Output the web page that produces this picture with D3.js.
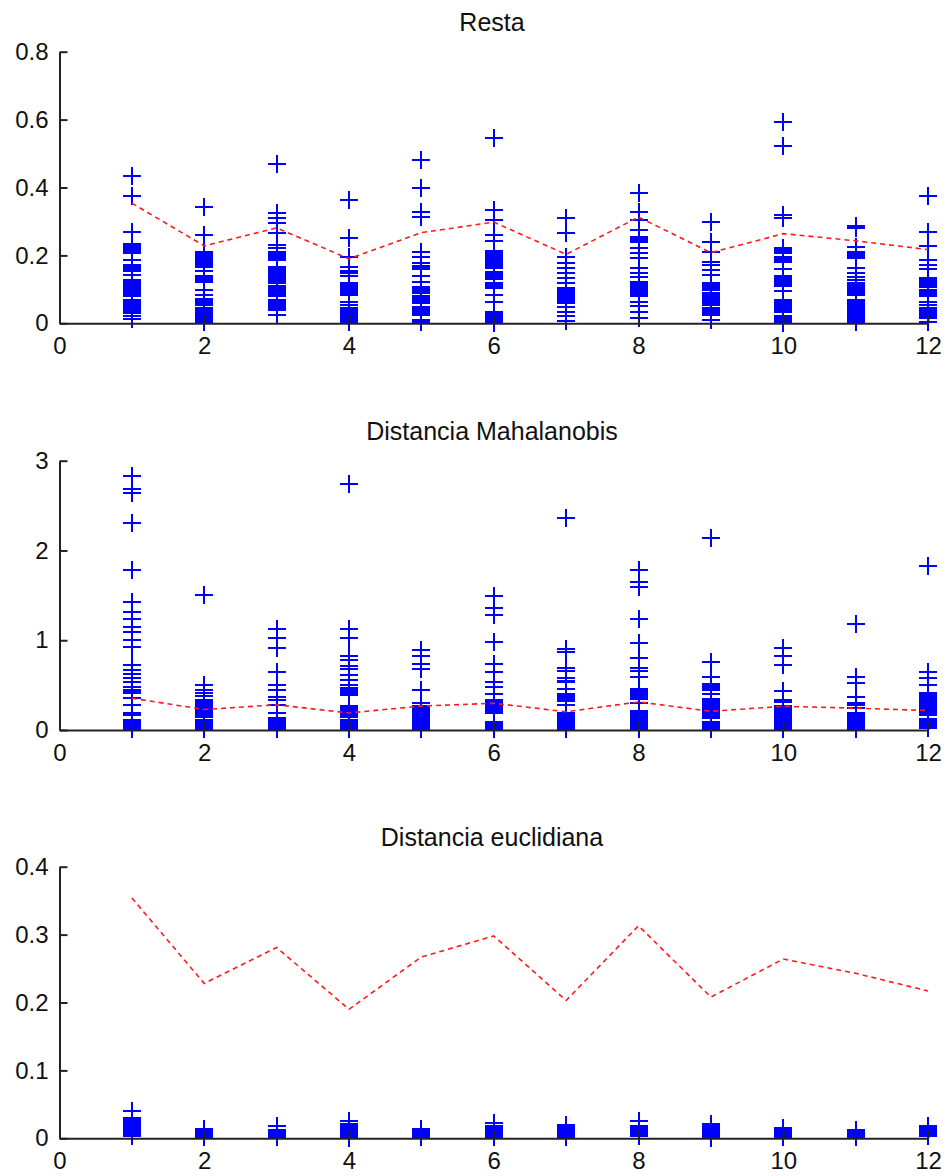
<!DOCTYPE html>
<html>
<head>
<meta charset="utf-8">
<script src="https://cdn.jsdelivr.net/npm/d3@7"></script>
<style>
  html, body { margin: 0; padding: 0; background: #fff; }
  svg { display: block; }
  text { font-family: "Liberation Sans", Arial, Helvetica, sans-serif; fill: #111; }
</style>
</head>
<body>
<svg id="chart" width="947" height="1176"></svg>
<script>
// ---------- DATA ----------
const categories = [1, 2, 3, 4, 5, 6, 7, 8, 9, 10, 11, 12];
const xTicks = [0, 2, 4, 6, 8, 10, 12];

const titles = ["Resta", "Distancia Mahalanobis", "Distancia euclidiana"];
const restaTicks = [0, 0.2, 0.4, 0.6, 0.8];
const mahalTicks = [0, 1, 2, 3];
const euclidTicks = [0, 0.1, 0.2, 0.3, 0.4];

// mean line (red dashed), same in all panels
const meanValues = [0.354, 0.228, 0.281, 0.190, 0.267, 0.298, 0.203, 0.313, 0.208, 0.264, 0.243, 0.217];

// Resta samples per category
const restaPoints = [
  [0.435,0.375,0.268,0.207,0.212,0.217,0.222,0.227,0.233,0.187,0.155,0.160,0.166,0.172,0.142,0.113,0.118,0.123,0.128,0.079,0.084,0.089,0.094,0.100,0.106,0.031,0.036,0.041,0.046,0.051,0.056,0.061,0.066,0.069,0.022,0.012],
  [0.344,0.260,0.167,0.172,0.177,0.182,0.187,0.192,0.197,0.202,0.207,0.211,0.155,0.123,0.128,0.134,0.139,0.098,0.083,0.054,0.059,0.065,0.071,0.003,0.008,0.013,0.018,0.023,0.028,0.033,0.038,0.044],
  [0.468,0.324,0.309,0.296,0.265,0.231,0.221,0.185,0.190,0.195,0.200,0.205,0.211,0.120,0.125,0.130,0.135,0.140,0.145,0.150,0.155,0.160,0.165,0.079,0.084,0.089,0.094,0.099,0.104,0.110,0.039,0.044,0.049,0.054,0.059,0.064,0.069,0.025],
  [0.363,0.250,0.196,0.167,0.155,0.147,0.140,0.083,0.088,0.093,0.098,0.103,0.108,0.113,0.120,0.064,0.054,0.003,0.008,0.013,0.018,0.023,0.028,0.033,0.038,0.044],
  [0.481,0.398,0.329,0.314,0.211,0.196,0.159,0.164,0.170,0.177,0.139,0.123,0.088,0.093,0.098,0.103,0.108,0.059,0.064,0.069,0.074,0.079,0.025,0.030,0.035,0.040,0.045,0.049,0.010,0.004],
  [0.547,0.334,0.304,0.260,0.243,0.162,0.167,0.172,0.177,0.182,0.187,0.192,0.197,0.202,0.208,0.214,0.130,0.135,0.140,0.146,0.152,0.103,0.108,0.114,0.120,0.083,0.064,0.002,0.007,0.012,0.017,0.022,0.027,0.032],
  [0.309,0.265,0.196,0.177,0.162,0.147,0.133,0.120,0.059,0.064,0.069,0.074,0.079,0.084,0.089,0.094,0.099,0.104,0.049,0.034,0.022,0.008],
  [0.383,0.329,0.304,0.275,0.238,0.243,0.248,0.253,0.221,0.206,0.191,0.162,0.149,0.135,0.079,0.084,0.089,0.094,0.099,0.104,0.109,0.114,0.119,0.123,0.064,0.051,0.034,0.015],
  [0.299,0.240,0.211,0.182,0.172,0.157,0.142,0.098,0.103,0.108,0.113,0.118,0.054,0.059,0.064,0.069,0.074,0.079,0.084,0.088,0.025,0.030,0.035,0.040,0.044,0.010],
  [0.594,0.523,0.319,0.309,0.206,0.211,0.216,0.221,0.182,0.187,0.192,0.196,0.159,0.110,0.116,0.122,0.128,0.134,0.139,0.095,0.034,0.039,0.044,0.049,0.054,0.059,0.064,0.069,0.002,0.007,0.012,0.017,0.022],
  [0.287,0.280,0.226,0.191,0.196,0.201,0.206,0.211,0.162,0.149,0.137,0.128,0.083,0.088,0.093,0.098,0.103,0.108,0.113,0.118,0.005,0.010,0.015,0.020,0.025,0.030,0.035,0.040,0.045,0.050,0.055,0.060,0.065,0.069],
  [0.375,0.270,0.228,0.187,0.172,0.159,0.108,0.113,0.118,0.123,0.128,0.133,0.079,0.084,0.089,0.094,0.098,0.064,0.054,0.015,0.020,0.025,0.030,0.035,0.040,0.044,0.005]
];

// Mahalanobis samples per category
const mahalPoints = [
  [2.83,2.69,2.64,2.31,1.78,1.43,1.32,1.24,1.15,1.09,1.00,0.92,0.72,0.67,0.62,0.58,0.53,0.48,0.45,0.43,0.41,0.36,0.28,0.19,0.17,0.01,0.03,0.05,0.07,0.09,0.11],
  [1.50,0.50,0.45,0.41,0.38,0.15,0.17,0.19,0.21,0.23,0.25,0.27,0.29,0.31,0.33,0.01,0.03,0.05,0.07,0.09,0.11],
  [1.13,1.03,0.91,0.65,0.50,0.45,0.37,0.33,0.28,0.19,0.01,0.03,0.05,0.07,0.09,0.11,0.13],
  [2.74,1.13,1.03,0.82,0.78,0.71,0.68,0.61,0.56,0.50,0.39,0.41,0.43,0.45,0.47,0.15,0.17,0.19,0.21,0.23,0.25,0.27,0.01,0.03,0.05,0.07,0.09,0.11],
  [0.89,0.82,0.74,0.68,0.45,0.30,0.01,0.03,0.05,0.07,0.09,0.11,0.13,0.15,0.17,0.19,0.21,0.23,0.25,0.27],
  [1.49,1.36,1.28,0.98,0.73,0.65,0.53,0.48,0.40,0.19,0.21,0.23,0.25,0.27,0.29,0.31,0.33,0.01,0.03,0.05,0.07,0.09],
  [2.36,0.90,0.87,0.69,0.66,0.58,0.55,0.53,0.46,0.32,0.34,0.36,0.38,0.40,0.28,0.01,0.03,0.05,0.07,0.09,0.11,0.13,0.15,0.17,0.19],
  [1.78,1.65,1.59,1.24,0.97,0.80,0.69,0.66,0.59,0.46,0.43,0.35,0.37,0.39,0.41,0.30,0.01,0.03,0.05,0.07,0.09,0.11,0.13,0.15,0.17,0.19,0.21],
  [2.14,0.76,0.59,0.45,0.47,0.49,0.51,0.40,0.13,0.15,0.17,0.19,0.21,0.23,0.25,0.27,0.29,0.31,0.33,0.35,0.01,0.03,0.05,0.07,0.09],
  [0.91,0.82,0.72,0.43,0.33,0.31,0.01,0.03,0.05,0.07,0.09,0.11,0.13,0.15,0.17,0.19,0.21,0.23,0.25,0.27],
  [1.18,0.59,0.52,0.37,0.30,0.28,0.24,0.01,0.03,0.05,0.07,0.09,0.11,0.13,0.15,0.17,0.19],
  [1.83,0.65,0.58,0.50,0.17,0.19,0.21,0.23,0.25,0.27,0.29,0.31,0.33,0.35,0.37,0.39,0.41,0.02,0.04,0.06,0.08,0.10,0.12]
];

// Euclidean samples per category
const euclidPoints = [
  [0.040,0.030,0.0275,0.025,0.0225,0.020,0.0175,0.015,0.0125,0.010,0.0075,0.005,0.003],
  [0.014,0.0115,0.009,0.0065,0.004,0.002],
  [0.018,0.012,0.0095,0.007,0.0045,0.002],
  [0.026,0.021,0.0185,0.016,0.0135,0.011,0.0085,0.006,0.0035,0.001],
  [0.014,0.0115,0.009,0.0065,0.004,0.002],
  [0.022,0.018,0.015,0.0125,0.010,0.0075,0.005,0.0025],
  [0.020,0.0175,0.015,0.0125,0.010,0.0075,0.005,0.0025],
  [0.026,0.018,0.0155,0.013,0.0105,0.008,0.0055,0.003],
  [0.021,0.0185,0.016,0.0135,0.011,0.0085,0.006,0.0035,0.001],
  [0.015,0.0125,0.010,0.0075,0.005,0.0025],
  [0.012,0.0095,0.007,0.0045,0.002],
  [0.018,0.0155,0.013,0.0105,0.008,0.0055,0.003]
];

// ---------- DRAW ----------
const svg = d3.select("#chart");
const x = d3.scaleLinear().domain([0, 12]).range([59.5, 928]);

const panels = [
  { title: titles[0], points: restaPoints, ticks: restaTicks, domain: [0, 0.8], range: [323.3, 51.7] },
  { title: titles[1], points: mahalPoints, ticks: mahalTicks, domain: [0, 3], range: [730, 460.7] },
  { title: titles[2], points: euclidPoints, ticks: euclidTicks, domain: [0, 0.4], range: [1138.3, 866.7] }
];

const plusPath = "M-9,0H9M0,-9V9";

panels.forEach(p => {
  const y = d3.scaleLinear().domain(p.domain).range(p.range);
  const g = svg.append("g");

  // points
  const flat = [];
  p.points.forEach((arr, i) => arr.forEach(v => flat.push({ c: categories[i], v })));
  g.append("g").attr("shape-rendering", "crispEdges")
    .selectAll("path").data(flat).join("path")
    .attr("d", plusPath)
    .attr("transform", d => `translate(${x(d.c)},${y(d.v)})`)
    .attr("stroke", "#0000ff")
    .attr("stroke-width", 2)
    .attr("fill", "none");

  // mean line
  const line = d3.line().x((d, i) => x(categories[i])).y(d => y(d));
  g.append("path")
    .datum(meanValues)
    .attr("d", line)
    .attr("fill", "none")
    .attr("stroke", "#ff1a1a")
    .attr("stroke-width", 1.6)
    .attr("stroke-dasharray", "5,4");

  // axes
  const yAxis = d3.axisLeft(y).tickValues(p.ticks).tickFormat(d => String(d))
    .tickSizeInner(-8).tickSizeOuter(0).tickPadding(11);
  const gy = g.append("g").attr("transform", `translate(${x(0)},0)`).call(yAxis);

  const xAxis = d3.axisBottom(x).tickValues(xTicks).tickFormat(d => String(d))
    .tickSizeInner(-8).tickSizeOuter(0).tickPadding(14);
  const gx = g.append("g").attr("transform", `translate(0,${p.range[0]})`).call(xAxis);

  [gx, gy].forEach(a => {
    a.select(".domain").attr("stroke", "#222").attr("stroke-width", 2);
    a.selectAll(".tick line").attr("stroke", "#222").attr("stroke-width", 2);
    a.selectAll(".tick text").attr("font-size", 24).attr("fill", "#111")
      .attr("font-family", '"Liberation Sans", Arial, sans-serif');
  });

  // title
  g.append("text")
    .attr("x", 492)
    .attr("y", p.range[1] - 21)
    .attr("text-anchor", "middle")
    .attr("font-size", 25)
    .text(p.title);
});
</script>
</body>
</html>
